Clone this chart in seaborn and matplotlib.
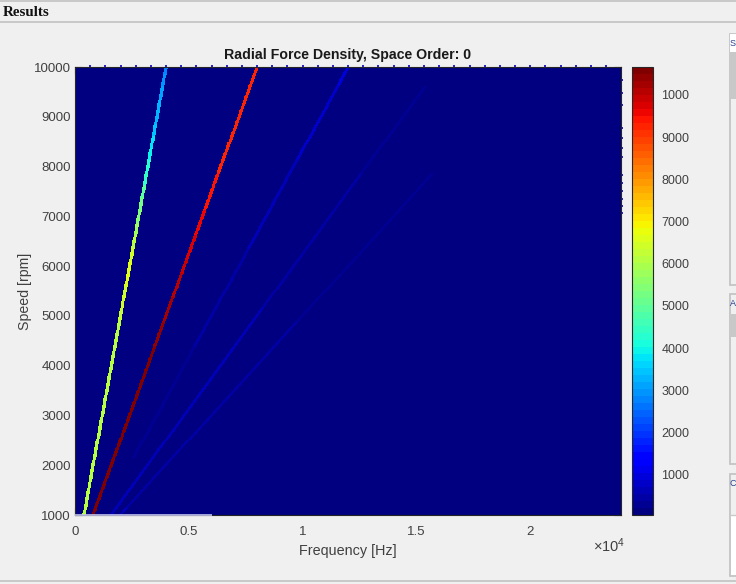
'''
Radial force density map (frequency vs speed) inside the results panel.
'''
import numpy as np
import matplotlib
matplotlib.use('Agg')
import matplotlib.pyplot as plt
import seaborn as sns
from matplotlib.lines import Line2D
from matplotlib.patches import Rectangle

WIDTH, HEIGHT = 736, 584

# Values, one amplitude per speed knot. 0 = line not visible.
speedKnots = [1000 + 250 * i for i in range(37)]
orders = [1, 2, 3, 4, 5]
amp1 = [6100, 6100, 6100, 6100, 6100, 6100, 6100, 6100, 6100, 6100, 6100, 6100,
        6100, 6100, 6100, 6100, 6250, 6350, 6500, 6650, 6600, 6350, 6100, 5800,
        5500, 5200, 4900, 4500, 4200, 3950, 3700, 3500, 3350, 3200, 3050, 2950, 2850]
amp2 = [10600, 10600, 10600, 10600, 10600, 10600, 10600, 10600, 10600, 10600, 10600,
        10600, 10600, 10600, 10450, 10400, 10300, 10200, 10100, 10000, 9900, 9800,
        9700, 9600, 9500, 9450, 9400, 9350, 9300, 9300, 9300, 9300, 9300, 9280, 9260,
        9250, 9250]
amp3 = [0, 0, 0, 0, 0, 230, 230, 240, 250, 270, 290, 320, 350, 370, 390, 400, 420, 440,
        460, 480, 500, 520, 550, 570, 600, 620, 650, 680, 700, 720, 750, 770, 800, 830,
        850, 880, 900]
amp4 = [700, 690, 680, 670, 650, 640, 640, 630, 620, 620, 610, 610, 600, 590, 580, 570,
        550, 540, 530, 510, 500, 480, 470, 450, 430, 420, 400, 390, 380, 350, 330, 300,
        280, 260, 250, 0, 0]
amp5 = [550, 540, 520, 500, 490, 470, 460, 450, 440, 430, 420, 410, 410, 400, 400, 390,
        380, 370, 350, 340, 330, 320, 300, 290, 280, 270, 260, 240, 0, 0, 0, 0, 0, 0, 0, 0, 0]
amps = [amp1, amp2, amp3, amp4, amp5]
backgroundLevel = 50
topLevel = 10660

xTicks = [0, 5000, 10000, 15000, 20000]
xTickLabels = ['0', '0.5', '1', '1.5', '2']
yTicks = [1000, 2000, 3000, 4000, 5000, 6000, 7000, 8000, 9000, 10000]
cbarTicks = [1000, 2000, 3000, 4000, 5000, 6000, 7000, 8000, 9000, 10000]
cbarLabels = ['1000', '2000', '3000', '4000', '5000', '6000', '7000', '8000', '9000', '1000']
topDots = [667 * i for i in range(1, 36)]
rightDots = [9730, 9474, 9231, 9000, 8780, 8571, 8372, 8182, 8000, 7826, 7660, 7500,
             7347, 7200, 7059]
stripEnd = 6000

# Grid the map is drawn on.
hzStep = 25
rpmStep = 20
lineCells = 3
hzMax = 24000
rpmMin, rpmMax = 1000, 10000


def box(x0, y0, x1, y1):
  '''
  Pixel box (top-left origin) to figure fractions.
  '''
  return [x0 / WIDTH, 1 - y1 / HEIGHT, (x1 - x0) / WIDTH, (y1 - y0) / HEIGHT]


def hline(fig, x0, x1, y, color='#c8c8c8', lw=1.4):
  fig.add_artist(Line2D([x0 / WIDTH, x1 / WIDTH], [1 - y / HEIGHT, 1 - y / HEIGHT],
                        color=color, linewidth=lw))


def panel(fig, x0, y0, x1, y1, face='#f0f0f0'):
  b = box(x0, y0, x1, y1)
  fig.add_artist(Rectangle((b[0], b[1]), b[2], b[3], transform=fig.transFigure,
                           facecolor=face, edgecolor='#c4c4c4', linewidth=1.3))


def fill(fig, x0, y0, x1, y1, face):
  b = box(x0, y0, x1, y1)
  fig.add_artist(Rectangle((b[0], b[1]), b[2], b[3], transform=fig.transFigure,
                           facecolor=face, edgecolor='none'))


def buildMap():
  rows = (rpmMax - rpmMin) // rpmStep + 1
  cols = hzMax // hzStep
  grid = np.full((rows, cols), float(backgroundLevel))
  for order, amp in zip(orders, amps):
    for r in range(rows):
      speed = rpmMin + r * rpmStep
      val = amp[round((speed - rpmMin) / 250)]
      if val == 0:
        continue
      c = int(round(0.4 * order * speed / hzStep))
      grid[r, max(c - lineCells, 0):c + lineCells] = val
  return grid


sns.set_style('ticks')
plt.rcParams['font.family'] = ['Liberation Sans', 'DejaVu Sans']
plt.rcParams['mathtext.fontset'] = 'custom'
plt.rcParams['mathtext.rm'] = 'Liberation Sans'
plt.rcParams['mathtext.default'] = 'regular'

textGrey = '#404040'
fig = plt.figure(figsize=(WIDTH / 100, HEIGHT / 100), dpi=100, facecolor='#f0f0f0')
ax = fig.add_axes(box(75, 67, 621, 515))
cax = fig.add_axes(box(632, 67, 653, 515))

grid = buildMap()
sns.heatmap(grid, ax=ax, cbar_ax=cax, cmap=plt.get_cmap('jet', 64), vmin=backgroundLevel,
            vmax=topLevel, xticklabels=False, yticklabels=False)
ax.invert_yaxis()


def xCell(hz):
  return np.asarray(hz) / hzStep


def yCell(rpm):
  # The map's rows span 0..rows, so scale the speed range onto all of them.
  return (np.asarray(rpm) - rpmMin) / (rpmMax - rpmMin) * grid.shape[0]


# Axes.
ax.set_xticks(xCell(xTicks))
ax.set_xticklabels(xTickLabels, rotation=0)
ax.set_yticks(yCell(yTicks))
ax.set_yticklabels(yTicks, rotation=0)
ax.tick_params(which='major', direction='in', length=5, width=0.8, color='#262626',
               top=True, right=True, bottom=True, left=True, labelcolor=textGrey,
               labelsize=9.5, pad=3)
ax.tick_params(axis='x', which='major', pad=8)
ax.set_xticks(xCell(topDots), minor=True)
ax.set_yticks(yCell(rightDots), minor=True)
ax.tick_params(which='minor', direction='out', length=1.5, width=1.2, color='#0000c0',
               top=True, right=True, bottom=False, left=False)
for side in ax.spines:
  ax.spines[side].set_visible(True)
  ax.spines[side].set_color('#262626')
  ax.spines[side].set_linewidth(0.8)
ax.set_xlabel('Frequency [Hz]', color=textGrey, fontsize=10.4, labelpad=4)
ax.set_ylabel('Speed [rpm]', color=textGrey, fontsize=10.2, labelpad=1)
ax.set_title('Radial Force Density, Space Order: 0', color='#1a1a1a', fontsize=10.2,
             fontweight='bold', pad=5.5)
ax.plot(xCell([0, stripEnd]), yCell([rpmMin, rpmMin]), color='#c4c4f0', linewidth=1.2,
        clip_on=False, zorder=5, solid_capstyle='butt')
fig.text(593 / WIDTH, 1 - 546 / HEIGHT, r'$\times10^{4}$', color=textGrey, fontsize=10.5,
         va='center', ha='left')

# Colorbar.
cbar = ax.collections[0].colorbar
cbar.set_ticks(cbarTicks)
cbar.set_ticklabels(cbarLabels)
cax.tick_params(which='both', direction='in', length=4, width=0.8, color='#262626',
                labelcolor=textGrey, labelsize=9, pad=6, right=True, left=False)
cbar.outline.set_visible(True)
cbar.outline.set_edgecolor('#262626')
cbar.outline.set_linewidth(0.8)

# Surrounding app panel.
hline(fig, 0, 736, 1)
hline(fig, 0, 736, 22)
hline(fig, 0, 736, 581)
fig.text(3 / WIDTH, 1 - 12 / HEIGHT, 'Results', family='Liberation Serif', fontweight='bold',
         fontsize=10.8, color='#111111', va='center', ha='left')
panel(fig, 729.5, 33.5, 745, 285)
fill(fig, 730, 34, 736, 52, '#ffffff')
fill(fig, 730, 52, 736, 99, '#c8c8c8')
panel(fig, 729.5, 294, 745, 464)
fill(fig, 730, 314, 736, 337, '#c8c8c8')
panel(fig, 730, 474, 745, 576)
fill(fig, 731, 515, 736, 575, '#ffffff')
hline(fig, 731, 736, 515, lw=1.0)
for label, y in zip(['S', 'A', 'C'], [43, 304, 484]):
  fig.text(735.5 / WIDTH, 1 - y / HEIGHT, label, color='#27408b', fontsize=6.5,
           va='center', ha='right')

fig.savefig('out.png', dpi=100, facecolor=fig.get_facecolor())
